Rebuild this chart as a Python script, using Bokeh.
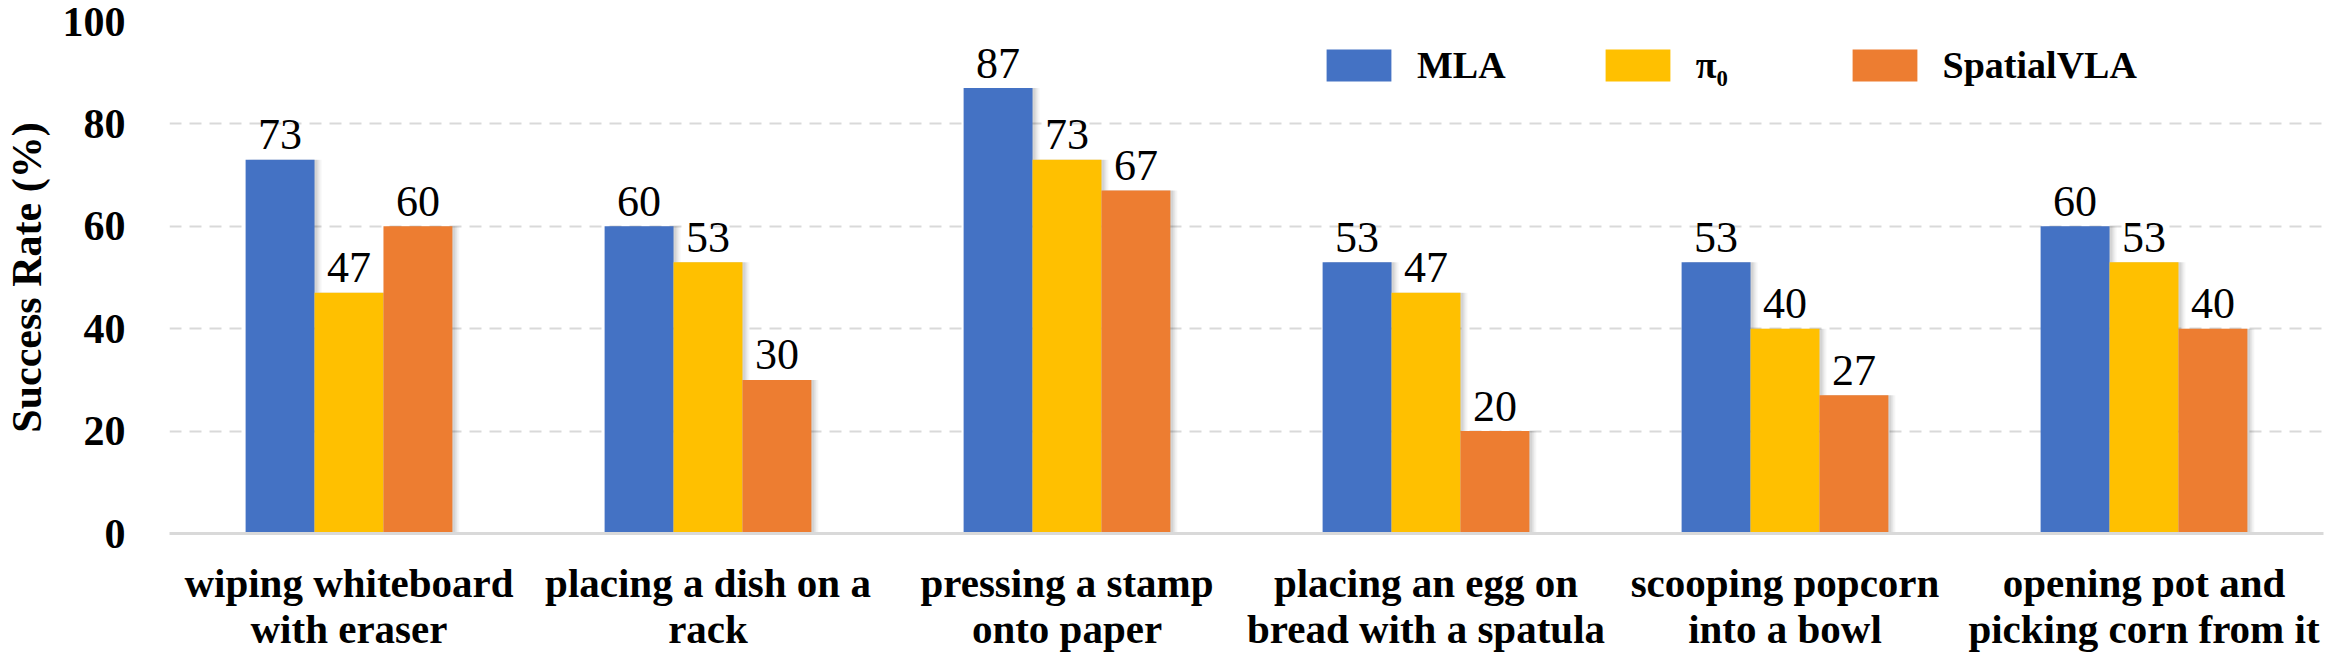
from bokeh.plotting import figure
from bokeh.models import Range1d, FixedTicker, Legend, LegendItem, ColumnDataSource
from bokeh.core.properties import value
from bokeh.embed import file_html
from bokeh.resources import INLINE

categories = [
    "wiping whiteboard\nwith eraser",
    "placing a dish on a\nrack",
    "pressing a stamp\nonto paper",
    "placing an egg on\nbread with a spatula",
    "scooping popcorn\ninto a bowl",
    "opening pot and\npicking corn from it",
]
series_names = ["MLA", "π₀ \u2009\u2009", "SpatialVLA"]
mla = [73, 60, 87, 53, 53, 60]
pi0 = [47, 53, 73, 47, 40, 53]
spatialvla = [60, 30, 67, 20, 27, 40]
y_ticks = [0, 20, 40, 60, 80, 100]

colors = ["#4472C4", "#FFC000", "#ED7D31"]
SERIF = "Liberation Serif"

p = figure(width=2328, height=656, output_backend="svg", toolbar_location=None,
           x_range=Range1d(-0.5, 5.5), y_range=Range1d(0, 100),
           min_border_left=165, min_border_right=5, min_border_top=21, min_border_bottom=123)
p.outline_line_color = None
p.background_fill_color = "white"
p.border_fill_color = "white"

xs = list(range(len(categories)))
bw = 0.192
offsets = [-bw, 0.0, bw]
px = 1.0 / 359.7

# soft shadows behind bars
for vals, off in zip([mla, pi0, spatialvla], offsets):
    for k, a in [(7, 0.04), (5, 0.06), (3, 0.08)]:
        p.vbar(x=[x + off + k * px for x in xs], top=vals, width=bw, bottom=0,
               fill_color="black", fill_alpha=a, line_color=None)

renderers = []
for vals, off, c in zip([mla, pi0, spatialvla], offsets, colors):
    src = ColumnDataSource(dict(x=[x + off for x in xs], top=vals, lab=[str(v) for v in vals]))
    r = p.vbar(x="x", top="top", width=bw, bottom=0, source=src, fill_color=c, line_color=None)
    renderers.append(r)
    p.text(x="x", y="top", text="lab", source=src, text_align="center", text_baseline="alphabetic",
           y_offset=-25, text_font=value(SERIF), text_font_size="44px", text_color="black")

# grid
p.xgrid.visible = False
p.ygrid.ticker = FixedTicker(ticks=y_ticks[1:])
p.ygrid.grid_line_color = "#d9d9d9"
p.ygrid.grid_line_width = 2
p.ygrid.grid_line_dash = "12 8"

# y axis
p.yaxis.ticker = FixedTicker(ticks=y_ticks)
p.yaxis.axis_line_color = None
p.yaxis.major_tick_line_color = None
p.yaxis.minor_tick_line_color = None
p.yaxis.major_label_text_font = SERIF
p.yaxis.major_label_text_font_size = "42px"
p.yaxis.major_label_text_font_style = "bold"
p.yaxis.major_label_text_color = "black"
p.yaxis.major_label_standoff = 38
p.yaxis.axis_label = "Success Rate (%)"
p.yaxis.axis_label_text_font = SERIF
p.yaxis.axis_label_text_font_size = "42px"
p.yaxis.axis_label_text_font_style = "bold"
p.yaxis.axis_label_text_color = "black"
p.yaxis.axis_label_standoff = 10

# x axis
p.xaxis.ticker = FixedTicker(ticks=xs)
p.xaxis.major_label_overrides = {i: c for i, c in enumerate(categories)}
p.xaxis.axis_line_color = "#d9d9d9"
p.xaxis.axis_line_width = 3
p.xaxis.major_tick_line_color = None
p.xaxis.minor_tick_line_color = None
p.xaxis.major_label_text_font = SERIF
p.xaxis.major_label_text_font_size = "41px"
p.xaxis.major_label_text_font_style = "bold"
p.xaxis.major_label_text_color = "black"
p.xaxis.major_label_text_line_height = 1.0
p.xaxis.major_label_standoff = 20

legend = Legend(items=[LegendItem(label=n, renderers=[r]) for n, r in zip(series_names, renderers)],
                orientation="horizontal", location=(1149, 446),
                glyph_width=81, glyph_height=40, label_standoff=18, spacing=91,
                padding=0, margin=0, border_line_alpha=0, background_fill_alpha=0,
                label_text_font=SERIF, label_text_font_size="38px", label_text_font_style="bold",
                label_text_color="black")
p.add_layout(legend)

open("out.html", "w").write(file_html(p, INLINE))
